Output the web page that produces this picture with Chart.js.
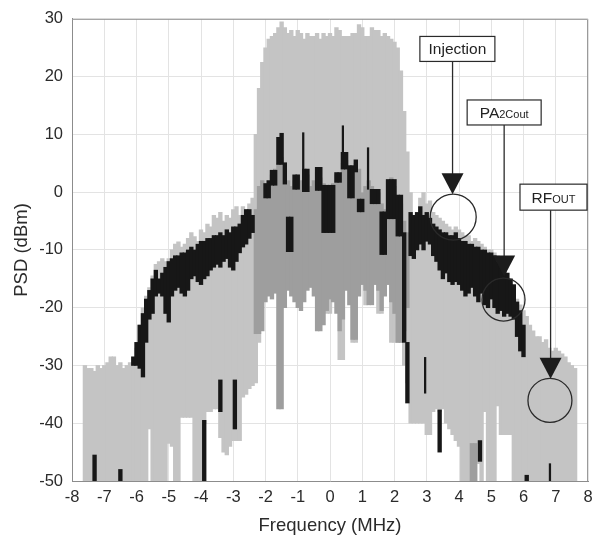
<!DOCTYPE html>
<html>
<head>
<meta charset="utf-8">
<script src="https://cdn.jsdelivr.net/npm/chart.js@4.4.1/dist/chart.umd.min.js"></script>
<style>
  html, body { margin: 0; padding: 0; background: #fff; }
  canvas { display: block; }
</style>
</head>
<body>
<canvas id="psd" width="602" height="542"></canvas>
<script>
// frequency bins (MHz), 0.1 MHz apart
var freqMHz = [
  -7.6, -7.5, -7.4, -7.3, -7.2, -7.1,
  -7.0, -6.9, -6.8, -6.7, -6.6, -6.5, -6.4, -6.3, -6.2, -6.1,
  -6.0, -5.9, -5.8, -5.7, -5.6, -5.5, -5.4, -5.3, -5.2, -5.1,
  -5.0, -4.9, -4.8, -4.7, -4.6, -4.5, -4.4, -4.3, -4.2, -4.1,
  -4.0, -3.9, -3.8, -3.7, -3.6, -3.5, -3.4, -3.3, -3.2, -3.1,
  -3.0, -2.9, -2.8, -2.7, -2.6, -2.5, -2.4, -2.3, -2.2, -2.1,
  -2.0, -1.9, -1.8, -1.7, -1.6, -1.5, -1.4, -1.3, -1.2, -1.1,
  -1.0, -0.9, -0.8, -0.7, -0.6, -0.5, -0.4, -0.3, -0.2, -0.1,
  0.0, 0.1, 0.2, 0.3, 0.4, 0.5, 0.6, 0.7, 0.8, 0.9,
  1.0, 1.1, 1.2, 1.3, 1.4, 1.5, 1.6, 1.7, 1.8, 1.9,
  2.0, 2.1, 2.2, 2.3, 2.4, 2.5, 2.6, 2.7, 2.8, 2.9,
  3.0, 3.1, 3.2, 3.3, 3.4, 3.5, 3.6, 3.7, 3.8, 3.9,
  4.0, 4.1, 4.2, 4.3, 4.4, 4.5, 4.6, 4.7, 4.8, 4.9,
  5.0, 5.1, 5.2, 5.3, 5.4, 5.5, 5.6, 5.7, 5.8, 5.9,
  6.0, 6.1, 6.2, 6.3, 6.4, 6.5, 6.6, 6.7, 6.8, 6.9,
  7.0, 7.1, 7.2, 7.3, 7.4, 7.5, 7.6
]

// RF out trace (light grey): top and bottom of the noisy trace, dBm
var rfOutHi = [
  -30, -30.5, -30.5, -31, -30, -30.5,
  -30, -29.5, -28.5, -28.5, -30, -29.5, -30.5, -30, -29.5, -30,
  -27, -23, -20, -18, -16.5, -14.5, -12.5, -12, -11.5, -12,
  -11.5, -10, -9, -8.6, -9.5, -9, -8, -7, -7.7, -8.5,
  -6.5, -7, -5.5, -6, -4, -4.5, -3.5, -5, -4, -4.5,
  -3, -2.5, -4, -2.5, -3, -2, -1, 10, 18, 22.5,
  25, 26.5, 27, 27.5, 28.5, 29.5, 28.5, 27.5, 28, 27,
  28, 27.5, 26.5, 27.5, 27, 27, 27.5, 26.5, 27.5, 27,
  27.5, 27, 28.5, 28, 27, 27, 27, 27.5, 27.5, 29,
  28.5, 27, 27, 28.5, 28, 28, 27, 27.5, 27, 26.5,
  26, 25, 21, 14, 7, 0, -4, -4.5, -1, 0,
  -2, -1.5, -3.5, -4, -4.5, -5, -5.5, -6, -6.5, -6,
  -6.5, -7, -7.5, -7.5, -8.5, -8, -8.5, -9, -9.5, -10,
  -10, -10.5, -11, -11.5, -13, -15, -16.5, -17, -18.5, -19.5,
  -20.5, -21.5, -23, -24, -25, -25, -26, -25.5, -27, -27.5,
  -27, -27.5, -28, -28.5, -29.5, -30, -30.5
]
var rfOutLo = [
  -50, -50, -50, -50, -50, -50,
  -50, -50, -50, -50, -50, -50, -50, -50, -50, -50,
  -50, -50, -50, -50, -41, -50, -50, -50, -50, -50,
  -43.5, -44, -50, -50, -39, -39, -39, -39, -50, -50,
  -50, -40, -38, -38, -37.5, -37.5, -42.5, -45, -45.5, -44,
  -43, -43, -43, -35.5, -35, -34, -33.5, -33, -26, -14,
  -14, -14, -14, -14, -14, -14, -14, -14, -14, -14,
  -14, -14, -14, -14, -14, -14, -14, -14, -14, -21,
  -21, -14, -14, -29, -29, -14, -14, -26, -26, -14,
  -14, -19.5, -14, -14, -14, -21, -21, -14, -14, -26,
  -26, -26, -26, -30, -33, -40, -40, -40, -40, -40,
  -42, -42, -38, -37.5, -38, -37.5, -40, -41, -42, -43,
  -44, -50, -50, -50, -50, -50, -47, -50, -38, -50,
  -50, -50, -37, -42, -42, -42, -42, -50, -50, -50,
  -50, -50, -50, -50, -50, -50, -50, -50, -50, -50,
  -50, -50, -50, -50, -50, -50, -50
]

// injection trace (mid grey), in-band only
var injHi = [
  null, null, null, null, null, null,
  null, null, null, null, null, null, null, null, null, null,
  null, null, null, null, null, null, null, null, null, null,
  null, null, null, null, null, null, null, null, null, null,
  null, null, null, null, null, null, null, null, null, null,
  null, null, null, null, null, null, null, -3, 1, 2,
  1.5, 2, 3, 4, 5, 6, 4, 2, 1, 2,
  3, 2, 3.5, 3, 1, 2, 3.5, 2.5, 1.5, 1,
  1, 1.5, 3, 2.5, 5, 5.5, 4, 3, 5, 4,
  0, 1, 2, 1, 0.5, 0, -2, -3, 2, 2.5,
  1, -1, -2, -5, -7, null, null, null, null, null,
  null, null, null, null, null, null, null, null, null, null,
  null, null, null, null, -43.5, -43.5, null, null, null, null,
  null, null, null, null, null, null, null, null, null, null,
  null, null, null, null, null, null, null, null, null, null,
  null, null, null, null, null, null, null
]
var injLo = [
  null, null, null, null, null, null,
  null, null, null, null, null, null, null, null, null, null,
  null, null, null, null, null, null, null, null, null, null,
  null, null, null, null, null, null, null, null, null, null,
  null, null, null, null, null, null, null, null, null, null,
  null, null, null, null, null, null, null, -24.5, -24.5, -24,
  -19, -18, -18.5, -17.5, -37.5, -37.5, -20, -17, -18, -19,
  -20, -20.5, -19, -17, -16.5, -18, -24, -24, -23, -20.5,
  -18.5, -19, -21, -24, -22, -17, -19.5, -25.5, -25.5, -18,
  -16, -17, -19.5, -19.5, -16, -17, -20.5, -18, -16, -19,
  -21, -26, -26, -24, -20, null, null, null, null, null,
  null, null, null, null, null, null, null, null, null, null,
  null, null, null, null, -50, -50, null, null, null, null,
  null, null, null, null, null, null, null, null, null, null,
  null, null, null, null, null, null, null, null, null, null,
  null, null, null, null, null, null, null
]

// PA2 output trace (black)
var pa2Hi = [
  null, null, null, -45.5, null, null,
  null, null, null, null, null, -48, null, null, null, -28.5,
  -26, -23, -21, -18.5, -17, -15, -13.5, -15, -14, -13,
  -12, -11.5, -11, -11, -10.5, -10.5, -10, -9.5, -10, -9,
  -8.5, -8.5, -8, -8, -7.5, -7.5, -7, -7.5, -6.5, -7,
  -6, -6, -5.5, -4, -3, -3, -4, null, null, null,
  1.5, 2, 3.8, 3.8, 9.5, 10.2, 5.1, -4.3, -4.3, 3,
  3, null, 4, 4, null, null, 4.3, 4.3, 1.2, 1.2,
  1.2, 1.2, 3.4, 3.4, 6.9, 6.9, 4.6, 4.6, 5.6, -1.2,
  -1.2, null, null, 0.5, 0.5, 0.5, -3.4, -3.4, 2.2, 2.2,
  2.2, -0.5, -0.5, -7, -26, -3.5, -4, -3.5, -2.5, -4,
  -3.5, -4.5, -5.5, -6, -6.5, -7, -7, -7.5, -7.5, -7,
  -8, -8.5, -8.5, -9, -9, -9.5, -9.5, -10, -10, -10.5,
  -10.5, -11, -12, -12.5, -13.5, -14, -15, -16, -19, -20.5,
  -23, -49, null, null, null, null, null, null, null, null,
  null, null, null, null, null, null, null
]
var pa2Lo = [
  null, null, null, -50, null, null,
  null, null, null, null, null, -50, null, null, null, -30,
  -30, -30.5, -32, -26, -22, -21, -18, -17.5, -18, -21,
  -22.5, -18, -17, -16.5, -17.5, -18, -17, -15, -14.5, -15.5,
  -16, -15, -14.5, -13.5, -13, -12.5, -13, -12, -11.5, -13,
  -13.5, -12, -10.5, -9.5, -9, -8, -7, null, null, null,
  -1, -1, 1.2, 1.2, 4.8, 4.8, 1.4, -10.3, -10.3, 0.5,
  0.5, null, 0, 0, null, null, 0.3, 0.3, -7, -7,
  -7, -7, 1.7, 1.7, 4, 4, -1, -1, 3.5, -3.4,
  -3.4, null, null, -2, -2, -2, -10.8, -10.8, -4.6, -4.6,
  -4.6, -7.6, -7.6, -26, -36.5, -11, -11.5, -10, -9, -10,
  -8.5, -9, -11, -12, -13.5, -15, -14, -15.5, -16, -15.5,
  -16, -17, -18, -17.5, -16.5, -18, -19, -17.5, -19.5, -20,
  -18.5, -20, -21, -20.5, -21.5, -21, -21.5, -22, -25, -27.5,
  -28.5, -50, null, null, null, null, null, null, null, null,
  null, null, null, null, null, null, null
]

// isolated black drop-outs below the traces
var spikeFreq = [-3.9, -3.4, -2.95, 3.4, 4.65]
var spikeLo = [-50, -38, -41, -45, -46.6]
var spikeHi = [-39.5, -32.5, -32.5, -37.7, -43]

// hairline peaks
var needleFreq = [-0.83, 0.4, 1.18, 2.95, 6.82]
var needleLo = [4, 6.9, 0.5, -34.8, -50]
var needleHi = [10.3, 11.5, 7.7, -28.6, -47]

var xTicks = [-8, 8, 1]
var yTicks = [-50, 30, 10]

// callouts: box centre, arrow x, arrow tip, circle centre (MHz, dBm)
var callouts = [
  { main: 'Injection', sub: '', box: [3.95, 24.8], w: 75, h: 25, arrowX: 3.8, tip: -0.35, circle: [3.82, -4.3], r: 23 },
  { main: 'PA', sub: '2Cout', box: [5.4, 13.8], w: 74, h: 25, arrowX: 5.4, tip: -14.6, circle: [5.38, -18.6], r: 21.5 },
  { main: 'RF', sub: 'OUT', box: [6.93, -0.86], w: 67, h: 26, arrowX: 6.84, tip: -32.3, circle: [6.82, -36.05], r: 22 }
]

function toBars(xs, lo, hi) {
  var out = []
  for (var i = 0; i < xs.length; i++) {
    if (hi[i] == null || lo[i] == null) continue
    out.push({ x: xs[i], y: [lo[i], hi[i]] })
  }
  return out
}

var calloutPlugin = {
  id: 'callouts',
  afterDatasetsDraw: function (chart) {
    var ctx = chart.ctx
    var x = chart.scales.x, y = chart.scales.y
    var a = chart.chartArea
    ctx.save()
    // frame on top and right
    ctx.strokeStyle = '#9a9a9a'
    ctx.lineWidth = 1
    ctx.beginPath()
    ctx.moveTo(a.left, a.top + 0.5)
    ctx.lineTo(a.right - 0.5, a.top + 0.5)
    ctx.lineTo(a.right - 0.5, a.bottom)
    ctx.stroke()

    callouts.forEach(function (c) {
      var bx = x.getPixelForValue(c.box[0]), by = y.getPixelForValue(c.box[1])
      var ax = x.getPixelForValue(c.arrowX), tip = y.getPixelForValue(c.tip)
      var cx = x.getPixelForValue(c.circle[0]), cy = y.getPixelForValue(c.circle[1])
      ctx.strokeStyle = '#2a2a2a'
      ctx.lineWidth = 1.3
      ctx.beginPath()
      ctx.moveTo(ax, by + c.h / 2)
      ctx.lineTo(ax, tip - 18)
      ctx.stroke()
      ctx.fillStyle = '#1c1c1c'
      ctx.beginPath()
      ctx.moveTo(ax - 11, tip - 21)
      ctx.lineTo(ax + 11, tip - 21)
      ctx.lineTo(ax, tip)
      ctx.closePath()
      ctx.fill()
      ctx.beginPath()
      ctx.arc(cx, cy, c.r, 0, Math.PI * 2)
      ctx.stroke()

      ctx.fillStyle = '#fff'
      ctx.fillRect(bx - c.w / 2, by - c.h / 2, c.w, c.h)
      ctx.lineWidth = 1.2
      ctx.strokeRect(bx - c.w / 2, by - c.h / 2, c.w, c.h)

      var big = '15.5px "Liberation Sans", Arial, sans-serif'
      var small = '11px "Liberation Sans", Arial, sans-serif'
      ctx.font = big
      var w1 = ctx.measureText(c.main).width
      ctx.font = small
      var w2 = c.sub ? ctx.measureText(c.sub).width : 0
      var left = bx - (w1 + w2) / 2
      ctx.fillStyle = '#222'
      ctx.textBaseline = 'alphabetic'
      ctx.textAlign = 'left'
      ctx.font = big
      ctx.fillText(c.main, left, by + 5.5)
      if (c.sub) {
        ctx.font = small
        ctx.fillText(c.sub, left + w1, by + 5.5)
      }
    })
    ctx.restore()
  }
}

var tickFont = { family: '"Liberation Sans", Arial, sans-serif', size: 16.5 }
var titleFont = { family: '"Liberation Sans", Arial, sans-serif', size: 18.5 }

new Chart(document.getElementById('psd'), {
  type: 'bar',
  data: {
    datasets: [
      { label: 'RFout', data: toBars(freqMHz, rfOutLo, rfOutHi), backgroundColor: '#c4c4c4', order: 4 },
      { label: 'Injection', data: toBars(freqMHz, injLo, injHi), backgroundColor: '#9e9e9e', order: 3 },
      { label: 'PA2Cout', data: toBars(freqMHz, pa2Lo, pa2Hi), backgroundColor: '#171717', order: 2 },
      { label: 'PA2Cout dips', data: toBars(spikeFreq, spikeLo, spikeHi), backgroundColor: '#171717', order: 1 },
      { label: 'PA2Cout peaks', data: toBars(needleFreq, needleLo, needleHi), backgroundColor: '#171717', barThickness: 1.6, order: 0 }
    ]
  },
  options: {
    responsive: false,
    animation: false,
    layout: { padding: { left: 0, right: 14, top: 15, bottom: 0 } },
    datasets: { bar: { grouped: false, barThickness: 3.7, borderWidth: 0, borderSkipped: false } },
    plugins: { legend: { display: false }, tooltip: { enabled: false } },
    scales: {
      x: {
        type: 'linear',
        min: xTicks[0], max: xTicks[1],
        offset: false,
        grid: { color: '#e3e3e3', drawTicks: false, offset: false },
        border: { color: '#8c8c8c' },
        ticks: { stepSize: xTicks[2], color: '#2b2b2b', font: tickFont, padding: 7 },
        title: { display: true, text: 'Frequency (MHz)', color: '#2b2b2b', font: titleFont, padding: { top: 0, bottom: 5 } },
        afterFit: function (s) { s.height = 61 }
      },
      y: {
        min: yTicks[0], max: yTicks[1],
        grid: { color: '#e3e3e3', drawTicks: false },
        border: { color: '#8c8c8c' },
        ticks: { stepSize: yTicks[2], color: '#2b2b2b', font: tickFont, padding: 9 },
        title: { display: true, text: 'PSD (dBm)', color: '#2b2b2b', font: titleFont, padding: { top: 11, bottom: 0 } },
        afterFit: function (s) { s.width = 72 }
      }
    }
  },
  plugins: [calloutPlugin]
})
</script>
</body>
</html>
